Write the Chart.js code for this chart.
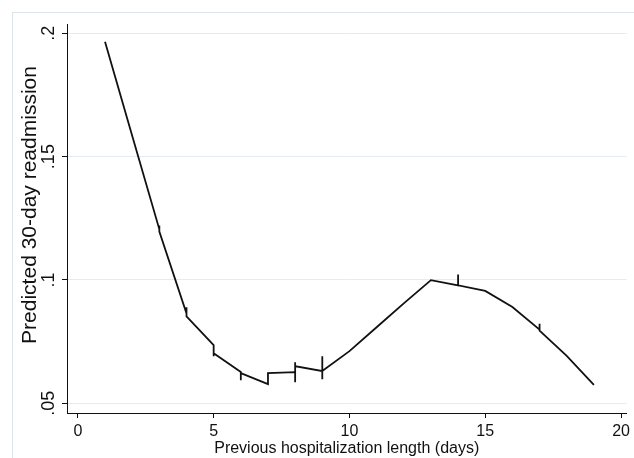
<!DOCTYPE html>
<html>
<head>
<meta charset="utf-8">
<script src="https://cdn.jsdelivr.net/npm/chart.js@4.4.1/dist/chart.umd.min.js"></script>
<style>
  html, body { margin: 0; padding: 0; background: #fff; }
  #wrap { position: relative; width: 634px; height: 458px; overflow: hidden; }
  #frame {
    position: absolute; left: 12px; top: 12px; width: 660px; height: 480px;
    border: 1px solid #dbe6ec; box-sizing: border-box;
  }
  #chart { position: absolute; left: 0; top: 0; }
</style>
</head>
<body>
<div id="wrap">
  <div id="frame"></div>
  <canvas id="chart" width="634" height="458"></canvas>
</div>
<script>
// Predicted readmission by previous length of stay. Several predictions
// share the same day, so the line steps up and down at those days.
const xDays = [1, 2, 3, 3, 3, 4, 4, 4, 5, 5, 5, 6, 6, 6, 7, 7, 8, 8, 8, 8,
  9, 9, 9, 9, 10, 11, 12, 13, 14, 14, 14, 15, 16, 17, 17, 17, 18, 19];
const yPred = [0.1966, 0.1585, 0.1205, 0.1221, 0.1196, 0.0864, 0.0889, 0.0852,
  0.0735, 0.0690, 0.0702, 0.0626, 0.0593, 0.0622, 0.0577, 0.0622,
  0.0626, 0.0666, 0.0585, 0.0650, 0.0630, 0.0690, 0.0597, 0.0630,
  0.0711, 0.0808, 0.0905, 0.0999, 0.0978, 0.1022, 0.0978,
  0.0955, 0.0890, 0.0798, 0.0822, 0.0794, 0.0692, 0.0574];

const xTicks = [0, 5, 10, 15, 20];
const yTicks = [0.05, 0.1, 0.15, 0.2];
const yTickLabels = [".05", ".1", ".15", ".2"];

const FONT = "'Liberation Sans', Arial, sans-serif";
const INK = "#111";
const Y_TITLE = "Predicted 30-day readmission";

// y-axis title drawn by hand so it can sit a little above the plot centre
const yTitlePlugin = {
  id: "yTitle",
  afterDraw(chart) {
    const ctx = chart.ctx;
    ctx.save();
    ctx.translate(30, 205);
    ctx.rotate(-Math.PI / 2);
    ctx.font = "21px " + FONT;
    ctx.fillStyle = INK;
    ctx.textAlign = "center";
    ctx.textBaseline = "middle";
    ctx.fillText(Y_TITLE, 0, 0);
    ctx.restore();
  },
};

const points = xDays.map((x, i) => ({ x: x, y: yPred[i] }));

new Chart(document.getElementById("chart"), {
  type: "line",
  data: {
    datasets: [{
      data: points,
      borderColor: "#111",
      borderWidth: 1.8,
      pointRadius: 0,
      tension: 0,
      fill: false,
    }],
  },
  plugins: [yTitlePlugin],
  options: {
    responsive: false,
    animation: false,
    layout: { padding: { left: 0, right: 6, top: 24, bottom: 0 } },
    plugins: { legend: { display: false }, tooltip: { enabled: false } },
    scales: {
      x: {
        type: "linear",
        min: -0.4,
        max: 20.2,
        afterBuildTicks: (s) => { s.ticks = xTicks.map((v) => ({ value: v })); },
        afterFit: (s) => { s.height = 45; },
        border: { color: INK, width: 1 },
        grid: { drawOnChartArea: false, tickColor: INK, tickLength: 5 },
        ticks: {
          autoSkip: false,
          maxRotation: 0,
          padding: 4,
          color: INK,
          font: { family: FONT, size: 16 },
        },
        title: {
          display: true,
          text: "Previous hospitalization length (days)",
          color: INK,
          font: { family: FONT, size: 16 },
          padding: { top: 0, bottom: 0 },
        },
      },
      y: {
        min: 0.046,
        max: 0.2038,
        afterBuildTicks: (s) => { s.ticks = yTicks.map((v) => ({ value: v })); },
        afterFit: (s) => { s.width = 67; },
        border: { color: INK, width: 1 },
        grid: { color: "#e3ecf0", tickColor: INK, tickLength: 5 },
        ticks: {
          autoSkip: false,
          minRotation: 90,
          maxRotation: 90,
          crossAlign: "center",
          padding: 0,
          color: INK,
          font: { family: FONT, size: 18 },
          callback: (v) => yTickLabels[yTicks.indexOf(v)],
        },
        title: { display: false },
      },
    },
  },
});
</script>
</body>
</html>
